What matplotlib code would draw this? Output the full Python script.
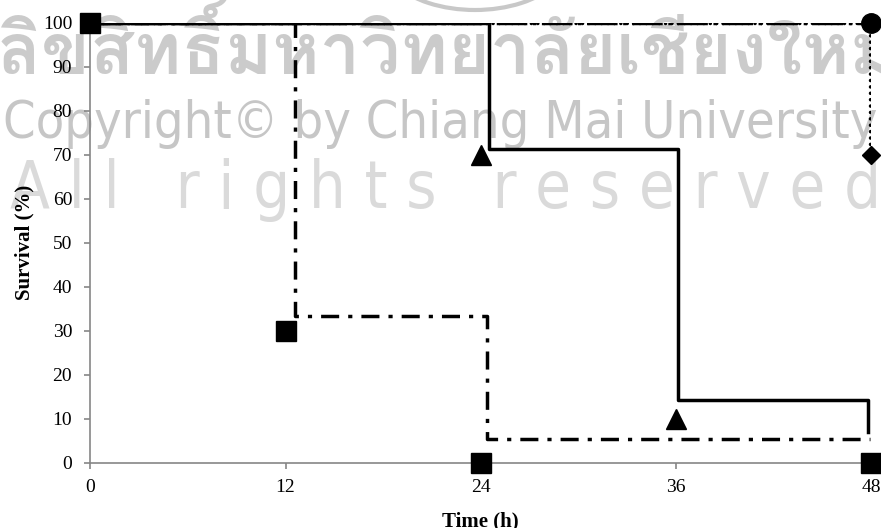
import matplotlib
matplotlib.use("Agg")
import matplotlib.pyplot as plt
from matplotlib import font_manager
from matplotlib.ft2font import FT2Font
from matplotlib.patches import Arc

# sampling times and observed survival (%) at each sampling point
hours = [0, 12, 24, 36, 48]
square_t = [0, 12, 24, 48]
square_s = [100, 30, 0, 0]
triangle_t = [24, 36]
triangle_s = [70, 10]
circle_t = [48]
circle_s = [100]
diamond_t = [48]
diamond_s = [70]

# step curves (time of each drop, survival after the drop)
step_sq_t = [0, 12.6, 24.4, 47.9]
step_sq_s = [100, 33.3, 5.4, 5.4]
step_tri_t = [0, 24.5, 36.1, 47.8]
step_tri_s = [100, 71.4, 14.3, 7.0]
step_dia_t = [0, 47.9]
step_dia_s = [100, 70]
step_cir_t = [0, 48]
step_cir_s = [100, 100]

watermark_th = "ลิขสิทธิ์มหาวิทยาลัยเชียงใหม่"
watermark_en = "Copyright© by Chiang Mai University"
watermark_rights = "A l l   r i g h t s   r e s e r v e d"

NARROW = ('condensed', 'semi-condensed', 'extra-condensed', 'ultra-condensed')


def pick_font(ch):
    # a font that has the glyph, narrow cuts first
    found = []
    for f in font_manager.fontManager.ttflist:
        try:
            if ord(ch) in FT2Font(f.fname).get_charmap():
                found.append(f)
        except Exception:
            pass
    found.sort(key=lambda f: (f.stretch not in NARROW and 'Narrow' not in f.name
                              and 'Condensed' not in f.name, f.weight != 400))
    return found[0] if found else None


def fit_width(fig, text, width_px):
    renderer = fig.canvas.get_renderer()
    w = text.get_window_extent(renderer).width
    text.set_fontsize(text.get_fontsize() * width_px / w)


plt.rcParams['font.family'] = ['Liberation Serif', 'DejaVu Serif']
plt.rcParams['lines.scale_dashes'] = False

fig = plt.figure(figsize=(8.81, 5.28), dpi=100)
ax = fig.add_axes([0.1025, 0.1237, 0.8865, 0.8333])
ax.patch.set_alpha(0)

# watermark behind the chart
th = pick_font('ล')
en = pick_font('g')
if th:
    t = fig.text(-2 / 881, 0.905, watermark_th, family=[th.name, 'DejaVu Sans'],
                 fontstretch=th.stretch, fontsize=50, fontweight='bold', color='#cbcbcb',
                 ha='left', va='center', zorder=-1)
    fit_width(fig, t, 900)
t = fig.text(3 / 881, 0.765, watermark_en, family=[en.name, 'DejaVu Sans'],
             fontstretch=en.stretch, fontsize=40, color='#c6c6c6',
             ha='left', va='center', zorder=-1)
fit_width(fig, t, 872)
t = fig.text(10 / 881, 0.64, watermark_rights, family=[en.name, 'DejaVu Sans'],
             fontstretch=en.stretch, fontsize=40, color='#dadada',
             ha='left', va='center', zorder=-1)
fit_width(fig, t, 870)
fig.patches.append(Arc((475, 573), 190, 110, theta1=200, theta2=340,
                       transform=None, color='#c8c8c8', lw=3, zorder=-1))

lw = 2.5
ax.plot(step_dia_t, step_dia_s, color='black', lw=lw, ls=(0, (0.1, 4.5)),
        dash_capstyle='round', drawstyle='steps-post', zorder=2)
ax.plot(step_cir_t, step_cir_s, color='black', lw=lw, ls=(0, (22, 4, 2.5, 4)),
        drawstyle='steps-post', zorder=2)
ax.plot(step_sq_t, step_sq_s, color='black', lw=lw, ls=(0, (13, 6.5, 3, 6.5)),
        drawstyle='steps-post', zorder=3)
ax.plot(step_tri_t, step_tri_s, color='black', lw=lw, ls='-',
        drawstyle='steps-post', zorder=4)

ax.plot(square_t, square_s, 's', color='black', ms=15, ls='none', clip_on=False, zorder=5)
ax.plot(triangle_t, triangle_s, '^', color='black', ms=14, ls='none', clip_on=False, zorder=5)
ax.plot(circle_t, circle_s, 'o', color='black', ms=14, ls='none', clip_on=False, zorder=5)
ax.plot(diamond_t, diamond_s, 'D', color='black', ms=9.5, ls='none', clip_on=False, zorder=5)

ax.set_xlim(0, 48)
ax.set_ylim(0, 100)
ax.set_xticks(hours)
ax.set_yticks(range(0, 101, 10))
for side in ['top', 'right']:
    ax.spines[side].set_visible(False)
for side in ['left', 'bottom']:
    ax.spines[side].set_color('#868686')
    ax.spines[side].set_linewidth(1.2)
ax.tick_params(axis='both', colors='#868686', labelcolor='black', labelsize=14,
               length=4, width=1.2, direction='out')
ax.tick_params(axis='x', pad=8)
ax.tick_params(axis='y', pad=9)

ax.set_xlabel('Time (h)', fontsize=15, fontweight='bold', labelpad=11)
ax.set_ylabel('Survival (%)', fontsize=15, fontweight='bold', labelpad=6)

fig.savefig('out.png', dpi=100)
